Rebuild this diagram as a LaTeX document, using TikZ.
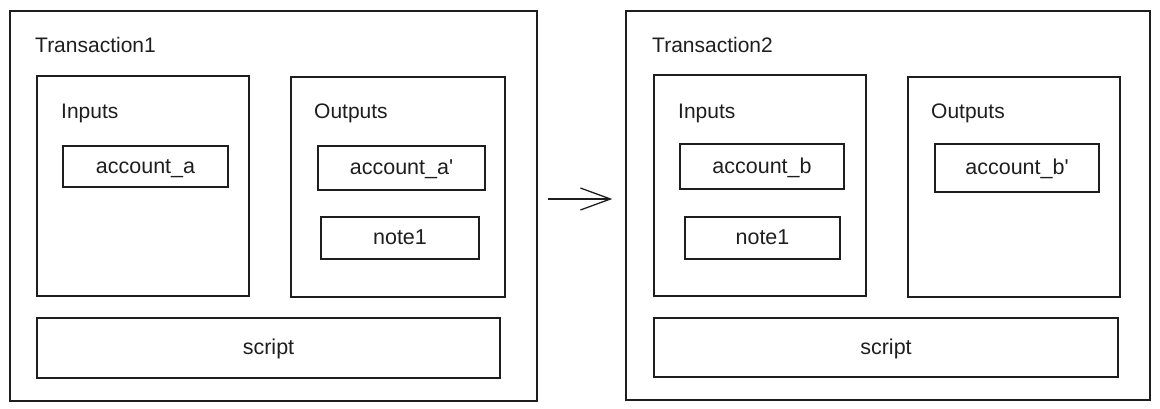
\documentclass[tikz,border=0pt]{standalone}
\usepackage{fontspec}
\setmainfont{Liberation Sans}
\usetikzlibrary{arrows.meta}
\definecolor{ink}{HTML}{1E1E1E}
\tikzstyle{arrow} = [-{Straight Barb[length=30pt,width=22pt,line width=1.3pt]},line width=1.3pt,ink]
\tikzstyle{box} = [draw=ink,line width=1.4pt,inner sep=0pt,text=ink,text height=14pt,text depth=0.5pt,font=\fontsize{21.5}{24}\selectfont]
\tikzstyle{title} = [anchor=west,inner sep=0pt,text=ink,font=\fontsize{21}{24}\selectfont]

\begin{document}
\begin{tikzpicture}[x=1pt,y=-1pt]
        \useasboundingbox (0,0) rectangle (1160,408);
        % first transaction
        \node[box, minimum width=527, minimum height=390] at (273.5,206) (tx1) {};
        \node[title] at (35,45) (tx1name) {Transaction1};
        \node[box, minimum width=212, minimum height=220] at (143,186) (in1) {};
        \node[title] at (61,113) (in1name) {Inputs};
        \node[box, minimum width=165, minimum height=41] at (145.5,166.5) (acca) {account\_a};
        \node[box, minimum width=214, minimum height=220] at (398,187) (out1) {};
        \node[title] at (314,113) (out1name) {Outputs};
        \node[box, minimum width=167, minimum height=44] at (401.5,168) (accanew) {account\_a\textquotesingle};
        \node[box, minimum width=158, minimum height=42] at (400,238) (notea) {note1};
        \node[box, minimum width=463, minimum height=60] at (268.5,348) (script1) {script};

        % second transaction
        \node[box, minimum width=524, minimum height=389] at (888,205.5) (tx2) {};
        \node[title] at (652,45) (tx2name) {Transaction2};
        \node[box, minimum width=212, minimum height=221] at (760,185.5) (in2) {};
        \node[title] at (678,113) (in2name) {Inputs};
        \node[box, minimum width=164, minimum height=45] at (762,166.5) (accb) {account\_b};
        \node[box, minimum width=155, minimum height=42] at (762.5,238) (noteb) {note1};
        \node[box, minimum width=212, minimum height=220] at (1014,187) (out2) {};
        \node[title] at (931,113) (out2name) {Outputs};
        \node[box, minimum width=164, minimum height=48] at (1017,168) (accbnew) {account\_b\textquotesingle};
        \node[box, minimum width=464, minimum height=59] at (886,347.5) (script2) {script};

        \draw[arrow] ([xshift=10pt,yshift=7pt]tx1.east) -- ([xshift=-13pt,yshift=6.5pt]tx2.west);
\end{tikzpicture}
\end{document}
